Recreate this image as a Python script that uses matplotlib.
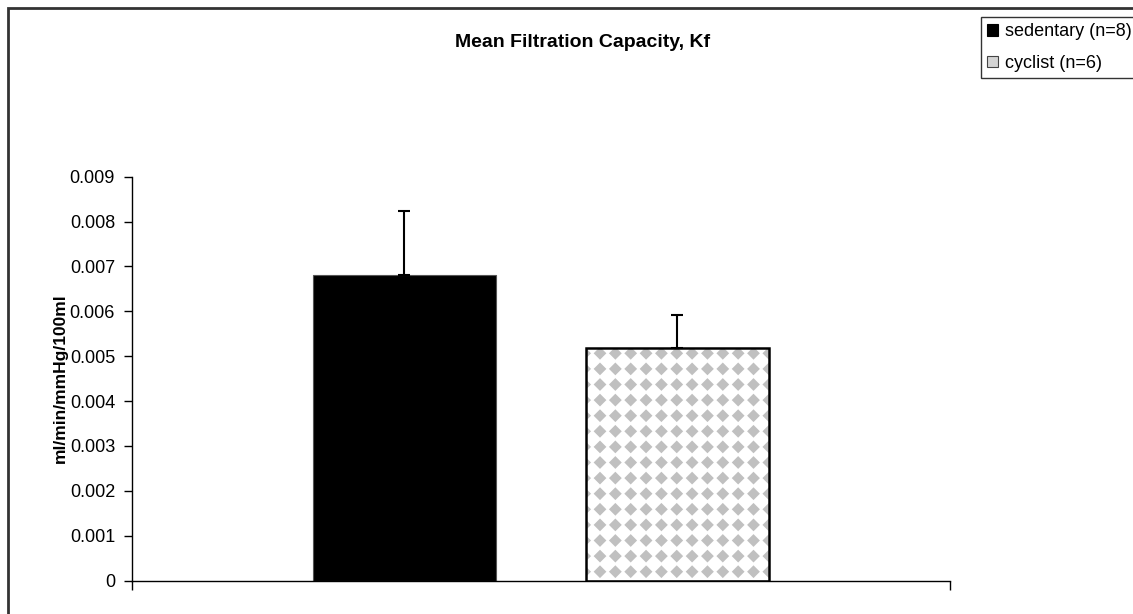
import numpy as np
import matplotlib
matplotlib.use("Agg")
import matplotlib.pyplot as plt
from matplotlib.patches import Patch, Rectangle
from matplotlib.collections import PolyCollection
from matplotlib.transforms import IdentityTransform

# ---- data ----
groups = ["sedentary (n=8)", "cyclist (n=6)"]
means = [0.00682, 0.00519]
sem_up = [0.00142, 0.00072]
ytick_vals = [0, 0.001, 0.002, 0.003, 0.004, 0.005, 0.006, 0.007, 0.008, 0.009]
ytick_labels = ["0", "0.001", "0.002", "0.003", "0.004", "0.005", "0.006", "0.007", "0.008", "0.009"]
title = "Mean Filtration Capacity, Kf"
ylabel = "ml/min/mmHg/100ml"

W, H = 1133, 614
plt.rcParams["font.family"] = ["Liberation Sans", "DejaVu Sans"]
fig = plt.figure(figsize=(W / 100, H / 100), dpi=100)
fig.patch.set_facecolor("white")

def fx(px):
    return px / W

def fy(py):
    return 1 - py / H

ax_l, ax_r, ax_t, ax_b = 131.7, 950.0, 176.7, 580.5
ax = fig.add_axes([fx(ax_l), fy(ax_b), (ax_r - ax_l) / W, (ax_b - ax_t) / H])
ax.set_xlim(0, 1)
ax.set_ylim(0, 0.009)

# bar positions within the single category
group_center = 0.5
offset = 1 / 6
bar_w = 0.2237
xs = [group_center - offset, group_center + offset]

b1 = ax.bar(xs[0], means[0], width=bar_w, color="black", edgecolor="#555555", linewidth=0.8, zorder=2)
b2 = ax.bar(xs[1], means[1], width=bar_w, color="white", edgecolor="none", linewidth=0, zorder=2)
ax.errorbar(xs, means, yerr=[np.zeros(len(means)), sem_up], fmt="none", ecolor="black",
            elinewidth=1.5, capsize=4.4, capthick=1.5, zorder=3)

# diamond texture on the cyclist bar (clipped to the bar)
patch = b2.patches[0]
x0, y0 = ax.transData.transform((patch.get_x(), 0))
x1, y1 = ax.transData.transform((patch.get_x() + patch.get_width(), patch.get_height()))
step_x, step_y, half = 15.35, 15.6, 6.4
cx0 = x0 - ((x0 - 600) % step_x) - step_x
verts = []
yy = y0 + 8.8
while yy < y1 + step_y:
    xx = cx0
    while xx < x1 + step_x:
        verts.append([(xx - half, yy), (xx, yy + half), (xx + half, yy), (xx, yy - half)])
        xx += step_x
    yy += step_y
pc = PolyCollection(verts, facecolors="#c0c0c0", edgecolors="none", transform=IdentityTransform(),
                    zorder=2.5)
ax.add_collection(pc, autolim=False)
pc.set_clip_path(patch)
# edge on top of texture
ax.bar(xs[1], means[1], width=bar_w, fill=False, edgecolor="black", linewidth=1.8, zorder=2.6)

# axes styling
for s in ["top", "right"]:
    ax.spines[s].set_visible(False)
ax.spines["left"].set_linewidth(1.0)
ax.spines["bottom"].set_linewidth(1.0)
ax.set_yticks(ytick_vals)
ax.set_yticklabels(ytick_labels, fontsize=13)
ax.set_xticks([0, 1])
ax.set_xticklabels(["", ""])
ax.tick_params(axis="y", direction="out", length=6, width=1, pad=6)
ax.tick_params(axis="x", direction="out", length=6.5, width=1)

# title and y label
fig.text(fx(583), fy(47), title, ha="center", va="baseline", fontsize=14, fontweight="bold")
fig.text(fx(60), fy((ax_t + ax_b) / 2), ylabel, ha="center", va="center", rotation=90,
         fontsize=12.5, fontweight="bold")

# legend
handles = [Patch(facecolor="black", edgecolor="black", linewidth=0.8),
           Patch(facecolor="#d4d4d4", edgecolor="#444444", linewidth=0.8)]
leg = fig.legend(handles, groups, loc="upper left", bbox_to_anchor=(fx(981), fy(17)),
                 fontsize=13, frameon=True, fancybox=False, borderpad=0.35,
                 labelspacing=0.8, handlelength=0.6, handleheight=0.6, handletextpad=0.4,
                 borderaxespad=0)
leg.get_frame().set_edgecolor("black")
leg.get_frame().set_linewidth(1.0)

# outer chart border (partially cut at right/bottom)
fig.add_artist(Rectangle((fx(8), -0.2), 1.5, fy(8) + 0.2, transform=fig.transFigure,
                         fill=False, edgecolor="#333333", linewidth=2))

fig.savefig("out.png", dpi=100, facecolor="white")
